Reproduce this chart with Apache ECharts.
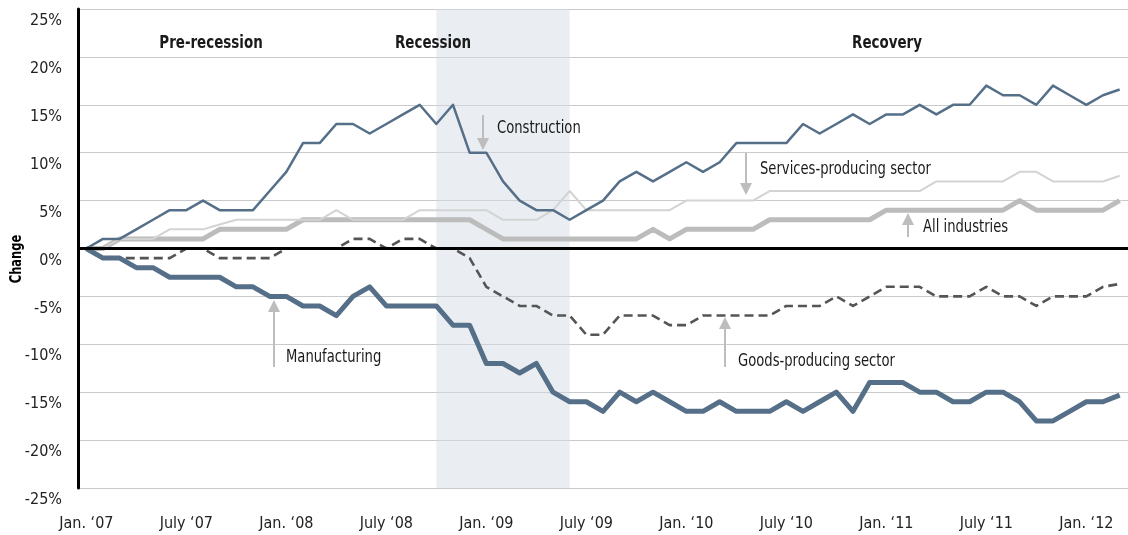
<!DOCTYPE html>
<html>
<head>
<meta charset="utf-8">
<script src="https://cdn.jsdelivr.net/npm/echarts@6/dist/echarts.min.js"></script>
<style>
  html, body { margin: 0; padding: 0; background: #fff; }
  #chart { width: 1128px; height: 535px; }
</style>
</head>
<body>
<div id="chart"></div>
<script>
// monthly categories, Jan 2007 .. Mar 2012
const months = [];
for (let i = 0; i < 63; i++) {
  const y = 2007 + Math.floor(i / 12);
  months.push(y + '-' + String((i % 12) + 1).padStart(2, '0'));
}
const tickLabels = ['Jan. ‘07', 'July ‘07', 'Jan. ‘08', 'July ‘08', 'Jan. ‘09', 'July ‘09',
  'Jan. ‘10', 'July ‘10', 'Jan. ‘11', 'July ‘11', 'Jan. ‘12'];
const recession = ['2008-10', '2009-06'];

// % change since Jan. '07
const construction = [0, 1, 1, 2, 3, 4, 4, 5, 4, 4, 4, 6, 8, 11, 11, 13, 13, 12, 13, 14, 15,
  13, 15, 10, 10, 7, 5, 4, 4, 3, 4, 5, 7, 8, 7, 8, 9, 8, 9, 11, 11, 11, 11, 13, 12, 13, 14,
  13, 14, 14, 15, 14, 15, 15, 17, 16, 16, 15, 17, 16, 15, 16, 16.6];
const services = [0, 0, 1, 1, 1, 2, 2, 2, 2.5, 3, 3, 3, 3, 3, 3, 4, 3, 3, 3, 3, 4,
  4, 4, 4, 4, 3, 3, 3, 4, 6, 4, 4, 4, 4, 4, 4, 5, 5, 5, 5, 5, 6, 6, 6, 6, 6, 6,
  6, 6, 6, 6, 7, 7, 7, 7, 7, 8, 8, 7, 7, 7, 7, 7.6];
const allIndustries = [0, 0, 1, 1, 1, 1, 1, 1, 2, 2, 2, 2, 2, 3, 3, 3, 3, 3, 3, 3, 3,
  3, 3, 3, 2, 1, 1, 1, 1, 1, 1, 1, 1, 1, 2, 1, 2, 2, 2, 2, 2, 3, 3, 3, 3, 3, 3,
  3, 4, 4, 4, 4, 4, 4, 4, 4, 5, 4, 4, 4, 4, 4, 5];
const goods = [0, -1, -1, -1, -1, -1, 0, 0, -1, -1, -1, -1, 0, 0, 0, 0, 1, 1, 0, 1, 1,
  0, 0, -1, -4, -5, -6, -6, -7, -7, -9, -9, -7, -7, -7, -8, -8, -7, -7, -7, -7, -7, -6,
  -6, -6, -5, -6, -5, -4, -4, -4, -5, -5, -5, -4, -5, -5, -6, -5, -5, -5, -4, -3.7];
const manufacturing = [0, -1, -1, -2, -2, -3, -3, -3, -3, -4, -4, -5, -5, -6, -6, -7, -5,
  -4, -6, -6, -6, -6, -8, -8, -12, -12, -13, -12, -15, -16, -16, -17, -15, -16, -15, -16,
  -17, -17, -16, -17, -17, -17, -16, -17, -16, -15, -17, -14, -14, -14, -15, -15, -16,
  -16, -15, -15, -16, -18, -18, -17, -16, -16, -15.3];

const FONT = "'DejaVu Sans Condensed', 'DejaVu Sans', sans-serif";
const BLUE = '#566f89';
const ARROW = '#bdbdbd';

function arrow(x, tipY, tailY) {
  const dir = tipY > tailY ? 1 : -1;
  return [
    { type: 'line', silent: true, z: 100, shape: { x1: x, y1: tailY, x2: x, y2: tipY - dir * 8 },
      style: { stroke: ARROW, lineWidth: 2 } },
    { type: 'polygon', silent: true, z: 100,
      shape: { points: [[x, tipY], [x - 6, tipY - dir * 12], [x + 6, tipY - dir * 12]] },
      style: { fill: ARROW } }
  ];
}
function label(text, x, y, opts) {
  opts = opts || {};
  return {
    type: 'text', silent: true, z: 100, x: x, y: y, scaleX: opts.sx || 0.86,
    style: {
      text: text, fill: '#1a1a1a',
      font: (opts.bold ? 'bold ' : '') + (opts.size || 17) + 'px ' + FONT,
      textAlign: opts.align || 'left', textVerticalAlign: 'middle',
      align: opts.align || 'left', verticalAlign: 'middle'
    }
  };
}

const chart = echarts.init(document.getElementById('chart'));
chart.setOption({
  animation: false,
  backgroundColor: '#fff',
  textStyle: { fontFamily: FONT },
  grid: { left: 78, top: 9, width: 1054, height: 479 },
  xAxis: {
    type: 'category',
    data: months,
    boundaryGap: true,
    axisLine: { show: false },
    axisTick: { show: false },
    splitLine: { show: false },
    axisLabel: {
      interval: 5, margin: 28, fontSize: 16, color: '#222', fontFamily: FONT,
      formatter: (v, i) => tickLabels[i / 6]
    }
  },
  yAxis: {
    type: 'value',
    min: -25, max: 25, interval: 5,
    axisLine: { show: true, lineStyle: { color: '#000', width: 3 } },
    axisTick: { show: false },
    splitLine: { lineStyle: { color: '#cacaca', width: 1.2 } },
    axisLabel: {
      formatter: '{value}%', fontSize: 16, color: '#222', fontFamily: FONT,
      margin: 16, verticalAlign: 'top', padding: [4, 0, 0, 0]
    }
  },
  series: [
    {
      name: 'Recession', type: 'line', data: [], silent: true,
      markArea: {
        silent: true,
        itemStyle: { color: 'rgba(212,219,228,0.48)' },
        data: [[{ xAxis: recession[0] }, { xAxis: recession[1] }]]
      }
    },
    {
      name: 'All industries', type: 'line', data: allIndustries, showSymbol: false,
      lineStyle: { color: '#bcbcbc', width: 5, join: 'round' }
    },
    {
      name: 'Services-producing sector', type: 'line', data: services, showSymbol: false,
      lineStyle: { color: '#d3d3d3', width: 2, join: 'round' }
    },
    {
      name: 'Goods-producing sector', type: 'line', data: goods, showSymbol: false,
      lineStyle: { color: '#555', width: 2.6, type: [9, 5], join: 'round' }
    },
    {
      name: 'Manufacturing', type: 'line', data: manufacturing, showSymbol: false,
      lineStyle: { color: BLUE, width: 5, join: 'round' }
    },
    {
      name: 'Construction', type: 'line', data: construction, showSymbol: false,
      lineStyle: { color: BLUE, width: 2.5, join: 'round' },
      markLine: {
        silent: true, symbol: 'none', label: { show: false },
        lineStyle: { color: '#000', width: 3, type: 'solid' },
        data: [{ yAxis: 0 }]
      }
    }
  ],
  graphic: [
    {
      type: 'text', silent: true, z: 100, x: 17, y: 259, rotation: Math.PI / 2, scaleX: 0.85,
      style: {
        text: 'Change', fill: '#000', font: 'bold 15px ' + FONT,
        textAlign: 'center', textVerticalAlign: 'middle', align: 'center', verticalAlign: 'middle'
      }
    },
    label('Pre-recession', 211, 43, { bold: true, size: 18, align: 'center', sx: 0.83 }),
    label('Recession', 433, 43, { bold: true, size: 18, align: 'center', sx: 0.83 }),
    label('Recovery', 887, 43, { bold: true, size: 18, align: 'center', sx: 0.83 }),
    ...arrow(483, 150, 115),
    label('Construction', 497, 129),
    ...arrow(746, 195, 153),
    label('Services-producing sector', 760, 170),
    ...arrow(908, 213, 237),
    label('All industries', 923, 228),
    ...arrow(274, 300, 367),
    label('Manufacturing', 286, 358),
    ...arrow(725, 317, 367),
    label('Goods-producing sector', 738, 362)
  ]
});
</script>
</body>
</html>
